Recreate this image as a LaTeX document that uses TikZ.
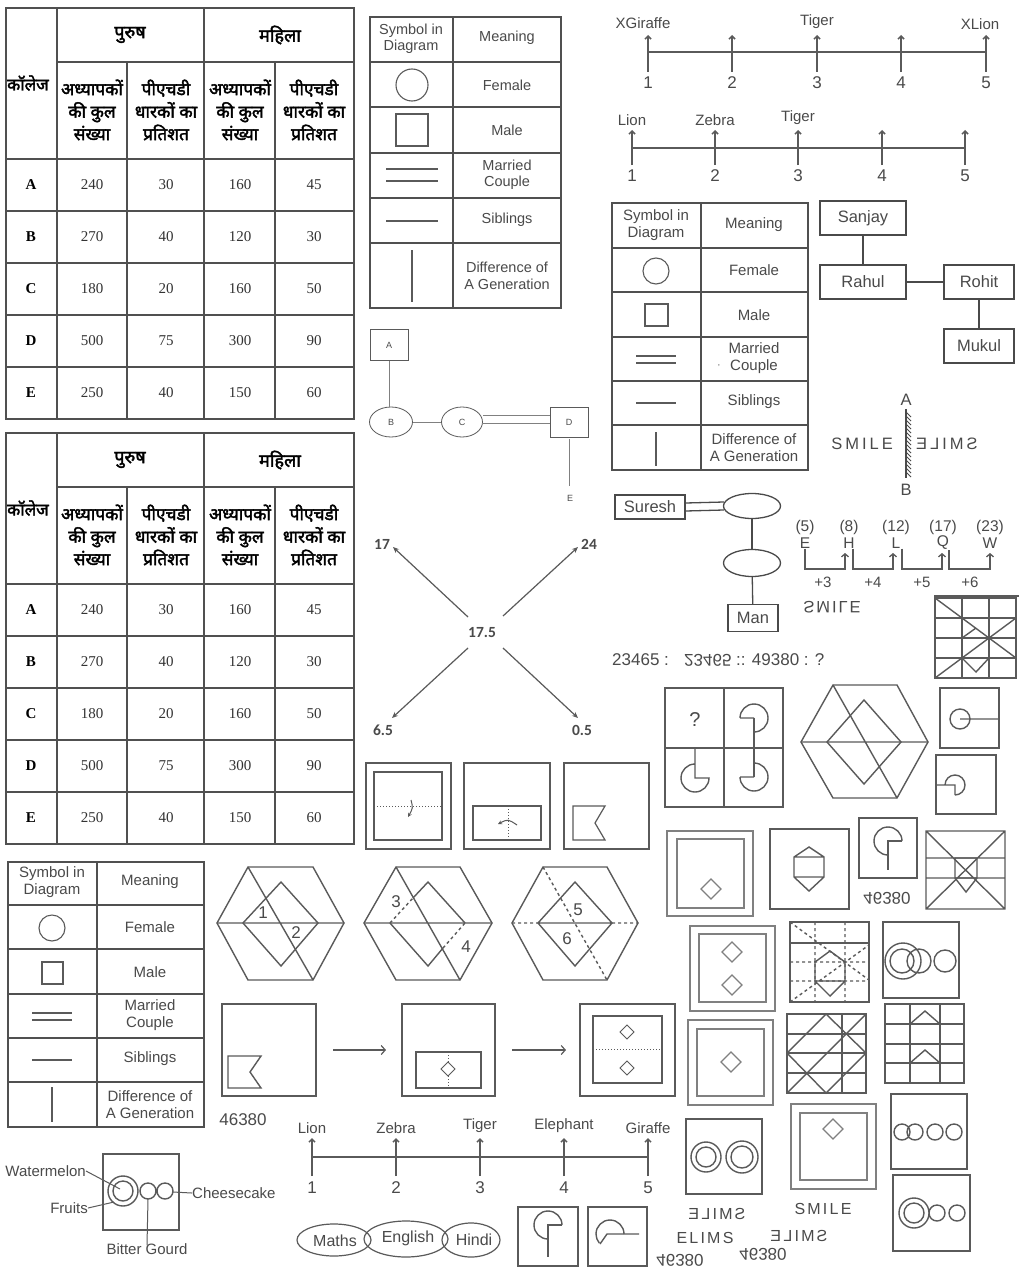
\documentclass[tikz,border=0pt]{standalone}
\usepackage{fontspec}
\setmainfont{Liberation Sans}
\newfontfamily\hindi[Script=Devanagari,FakeBold=2.2]{Noto Sans}
\newfontfamily\tnr{Liberation Serif}
\newfontfamily\calib{Carlito}
\usetikzlibrary{arrows.meta,shapes.geometric}
\definecolor{lc}{HTML}{5A5A5A}
\definecolor{tc}{HTML}{4A4A4A}
\definecolor{tbc}{HTML}{505050}
\tikzset{
 ln/.style={draw=lc,line width=1.4pt},
 lnt/.style={draw=lc,line width=1pt},
 tb/.style={draw=tbc,line width=1.6pt},
 hh/.style={font=\hindi\fontsize{18}{20}\selectfont,inner sep=0pt},
 hs/.style={font=\hindi\fontsize{17.3}{22.5}\selectfont,align=center,inner sep=0pt},
 hl/.style={font=\tnr\bfseries\fontsize{15}{18}\selectfont,inner sep=0pt},
 hn/.style={font=\tnr\fontsize{15}{18}\selectfont,text=black!80,inner sep=0pt},
 st/.style={font=\fontsize{14.5}{16.5}\selectfont,text=tc,align=center,inner sep=0pt},
 sym/.style={draw=lc,line width=1.1pt},
 pbox/.style={draw=tc,line width=1.3pt,font=\fontsize{16.5}{18}\selectfont,text=tc,inner sep=0pt},
 nl/.style={font=\fontsize{15}{17}\selectfont,text=tc,inner sep=0pt},
 nn/.style={font=\fontsize{17}{19}\selectfont,text=tc,inner sep=0pt},
 tick/.style={draw=lc,line width=1.5pt,-{Straight Barb[length=3pt,width=6pt]}},
 bnum/.style={font=\calib\bfseries\fontsize{15.5}{17}\selectfont,text=tc,inner sep=0pt},
 arr/.style={draw=lc,line width=1.2pt,-{Stealth[length=6pt,width=5pt]}},
 sm/.style={font=\addfontfeature{LetterSpace=18}\fontsize{16.5}{18}\selectfont,text=tc,inner sep=0pt},
 tiny/.style={font=\fontsize{9}{10}\selectfont,text=tc,inner sep=0pt},
 fam/.style={draw=gray,line width=0.7pt},
}
\newcommand\hinditable[2]{%
\begin{scope}[shift={(0,#2)}]
\draw[tb] (6,8) rectangle (354,419);
\draw[tb] (57,8) -- (57,419) (204,8) -- (204,419) (57,62) -- (354,62) (127,62) -- (127,419) (275,62) -- (275,419);
\foreach \yy in {159,211,263,315,367} \draw[tb] (6,\yy) -- (354,\yy);
\node[hh] (#1p) at (130,35) {पुरुष};
\node[hh] (#1m) at (280,35) {महिला};
\node[hh,anchor=west,font=\hindi\fontsize{17}{20}\selectfont] (#1k) at (7,83) {कॉलेज};
\node[hs] (#1sa) at (92,110) {अध्यापकों\\की कुल\\संख्या};
\node[hs] (#1sb) at (166,110) {पीएचडी\\धारकों का\\प्रतिशत};
\node[hs] (#1sc) at (240,110) {अध्यापकों\\की कुल\\संख्या};
\node[hs] (#1sd) at (314,110) {पीएचडी\\धारकों का\\प्रतिशत};
\foreach \L/\va/\vb/\vc/\vd [count=\i] in {A/240/30/160/45,B/270/40/120/30,C/180/20/160/50,D/500/75/300/90,E/250/40/150/60}{
 \pgfmathsetmacro\yy{133+52*\i}
 \node[hl] (#1r\i) at (31,\yy) {\L};
 \node[hn] (#1a\i) at (92,\yy) {\va};
 \node[hn] (#1b\i) at (166,\yy) {\vb};
 \node[hn] (#1c\i) at (240,\yy) {\vc};
 \node[hn] (#1d\i) at (314,\yy) {\vd};
}
\end{scope}}
\begin{document}
\begin{tikzpicture}[x=1pt,y=-1pt]
\useasboundingbox[fill=white] (0,0) rectangle (1021,1271);
% ---------- Hindi tables
\hinditable{ta}{0}
\hinditable{tb}{425}
% ---------- symbol table 1
\draw[tb,line width=1.3pt] (370,17) rectangle (561,308);
\draw[tb,line width=1.3pt] (453,17) -- (453,308);
\foreach \yy in {62,107,153,198,243} \draw[tb,line width=1.3pt] (370,\yy) -- (561,\yy);
\node[st] (s1a) at (411,39) {Symbol in\\Diagram};
\node[st] (s1b) at (507,38) {Meaning};
\node[st] (s1c) at (507,85) {Female};
\node[st] (s1d) at (507,130) {Male};
\node[st] (s1e) at (507,175) {Married\\Couple};
\node[st] (s1f) at (507,220) {Siblings};
\node[st] (s1g) at (507,276) {Difference of\\A Generation};
\draw[sym] (412,85) circle[radius=16];
\draw[sym] (396,114) rectangle (428,146);
\draw[sym] (386,169) -- (438,169) (386,181) -- (438,181);
\draw[sym] (386,221) -- (438,221);
\draw[sym] (412,250) -- (412,302);
% ---------- A..E family
\begin{scope}[every node/.style={tiny}]
\node[draw=lc,line width=0.8pt,minimum width=38,minimum height=31] (fa) at (389,345) {A};
\node[draw=lc,line width=0.8pt,ellipse,minimum width=43,minimum height=30] (fb) at (391,422) {B};
\node[draw=lc,line width=0.8pt,ellipse,minimum width=41,minimum height=30] (fc) at (462,422) {C};
\node[draw=lc,line width=0.8pt,minimum width=38,minimum height=30] (fd) at (569,422) {D};
\node (fe) at (570,498) {E};
\end{scope}
\draw[fam] (fa.south) -- (fa.south |- fb.north);
\draw[fam] (fb.east) -- (fc.west);
\draw[fam] ([yshift=7pt]fc.east) -- ([yshift=7pt]fd.west);
\draw[fam] ([yshift=-1pt]fc.east) -- ([yshift=-1pt]fd.west);
\draw[fam] ([yshift=-2pt]fd.south) -- ([yshift=9pt]fd.south |- fe.north);
% ---------- number line 1
\draw[ln,line width=2pt] (648,52) -- (986,52);
\foreach \xx/\n in {648/1,732/2,817/3,901/4,986/5}{
 \draw[tick] (\xx,72) -- (\xx,35);
 \node[nn] (nla\n) at (\xx,83) {\n};}
\node[nl] (nlx1) at (643,23) {XGiraffe};
\node[nl] (nlx2) at (817,22) {Tiger};
\node[nl] (nlx3) at (980,24) {XLion};
% ---------- number line 2
\draw[ln,line width=2pt] (632,148) -- (965,148);
\foreach \xx/\n in {632/1,715/2,798/3,882/4,965/5}{
 \draw[tick] (\xx,165) -- (\xx,130);
 \node[nn] (nlb\n) at (\xx,176) {\n};}
\node[nl] (nly1) at (632,120) {Lion};
\node[nl] (nly2) at (715,120) {Zebra};
\node[nl] (nly3) at (798,118) {Tiger};
% ---------- symbol table 2
\draw[tb,line width=1.3pt] (612,203) rectangle (808,470);
\draw[tb,line width=1.3pt] (701,203) -- (701,470);
\foreach \yy in {248,292,337,381,425} \draw[tb,line width=1.3pt] (612,\yy) -- (808,\yy);
\begin{scope}[every node/.style={st,font=\fontsize{15}{17}\selectfont}]
\node (s2a) at (656,225) {Symbol in\\Diagram};
\node (s2b) at (754,225) {Meaning};
\node (s2c) at (754,270) {Female};
\node (s2d) at (754,315) {Male};
\node (s2e) at (754,358) {Married\\Couple};
\node (s2f) at (754,402) {Siblings};
\node (s2g) at (754,448) {Difference of\\A Generation};
\node[font=\fontsize{8}{8}\selectfont] (s2h) at (719,366) {,};
\end{scope}
\draw[sym] (656,271) circle[radius=13];
\draw[sym] (645,304) rectangle (668,326);
\draw[sym] (636,356) -- (676,356) (636,363) -- (676,363);
\draw[sym] (636,403) -- (676,403);
\draw[sym] (656,432) -- (656,466);
% ---------- Sanjay tree
\node[pbox,minimum width=86,minimum height=34] (sanjay) at (863,218) {Sanjay};
\node[pbox,minimum width=86,minimum height=34] (rahul) at (863,282) {Rahul};
\node[pbox,minimum width=70,minimum height=34] (rohit) at (979,282) {Rohit};
\node[pbox,minimum width=70,minimum height=34] (mukul) at (979,346) {Mukul};
\draw[draw=tc,line width=1.3pt] (sanjay) -- (rahul);
\draw[draw=tc,line width=1.3pt] (rahul) -- (rohit);
\draw[draw=tc,line width=1.3pt] (rohit) -- (mukul);
% ---------- mirror
\node[font=\fontsize{16.5}{18}\selectfont,text=tc,inner sep=0pt] (mA) at (906,400) {A};
\node[font=\fontsize{16.5}{18}\selectfont,text=tc,inner sep=0pt] (mB) at (906,490) {B};
\draw[draw=tc,line width=1.4pt] ([yshift=-3pt]mA.south) -- ([yshift=6pt]mB.north);
\foreach \yy in {412,416,...,472} \draw[draw=tc,line width=0.8pt] (906,\yy) -- (911,\yy+5);
\node[sm,anchor=east] (sm1) at (893,444) {SMILE};
\node[sm,anchor=east,xscale=-1,transform shape] (sm2) at (916,444) {SMILE};
% ---------- Suresh
\node[pbox,minimum width=70,minimum height=24] (suresh) at (650,507) {Suresh};
\node[draw=tc,line width=1.3pt,ellipse,minimum width=57,minimum height=25] (e1) at (752,506) {};
\node[draw=tc,line width=1.3pt,ellipse,minimum width=57,minimum height=27] (e2) at (752,563) {};
\node[pbox,minimum width=50,minimum height=27] (man) at (753,618) {Man};
\draw[draw=tc,line width=1.3pt] ([yshift=4pt]suresh.east) -- ([yshift=4pt,xshift=1pt]e1.west);
\draw[draw=tc,line width=1.3pt] ([yshift=-4pt]suresh.east) -- ([yshift=-4pt,xshift=1pt]e1.west);
\draw[draw=tc,line width=1.3pt] (e1) -- (e2);
\draw[draw=tc,line width=1.3pt] (e2) -- (man);
% ---------- letters EHLQW
\foreach \xx/\nm/\L/\v in {805/le/E/5,849/lh/H/8,896/ll/L/12,943/lq/Q/17,990/lw/W/23}{
 \node[nl,font=\fontsize{15.5}{17}\selectfont] (\nm n) at (\xx,527) {(\v)};
 \node[nl,font=\fontsize{15.5}{17}\selectfont] (\nm) at (\xx,543) {\L};}
\draw[lnt,line width=1.3pt,-{Straight Barb[length=3pt,width=7pt]}] (le.south) |- (845,569) -- (845,553);
\draw[lnt,line width=1.3pt,-{Straight Barb[length=3pt,width=7pt]}] ([xshift=4pt]lh.south) |- (893,569) -- (893,553);
\draw[lnt,line width=1.3pt,-{Straight Barb[length=3pt,width=7pt]}] ([xshift=6pt]ll.south) |- (942,569) -- (942,553);
\draw[lnt,line width=1.3pt,-{Straight Barb[length=3pt,width=7pt]}] ([xshift=6pt]lq.south) |- (990,569) -- (990,553);
\node[nl] (p3) at (823,582) {+3};
\node[nl] (p4) at (873,582) {+4};
\node[nl] (p5) at (922,582) {+5};
\node[nl] (p6) at (970,582) {+6};
\node[sm,yscale=-1,transform shape,font=\addfontfeature{LetterSpace=12}\fontsize{16.5}{18}\selectfont] (sm3) at (832,607) {SMILE};
% ---------- 23465 analogy
\node[nl,font=\fontsize{17}{19}\selectfont,anchor=west] (an1) at (612,660) {23465 :};
\node[nl,font=\fontsize{17}{19}\selectfont,anchor=west,yscale=-1,transform shape] (an2) at (684,660) {23465};
\node[nl,font=\fontsize{17}{19}\selectfont,anchor=west] (an3) at (736,660) {:: 49380 : ?};
% ---------- grid square top right
\draw[lnt,line width=1.2pt] (934,596) -- (1019,596);
\draw[ln] (935,598) rectangle (1016,678);
\draw[ln] (962,598) -- (962,678) (989,598) -- (989,678) (935,618) -- (1016,618) (935,638) -- (1016,638) (935,658) -- (1016,658);
\draw[ln] (935,598) -- (1016,658);
\draw[ln] (1016,618) -- (935,678);
\draw[ln] (962,638) -- (976,628);
\draw[ln] (962,658) -- (976,672) -- (989,658);
% ---------- 17.5 arrows
\node[bnum] (c175) at (482,633) {17.5};
\node[bnum] (n17) at (382,544) {17};
\node[bnum] (n24) at (589,544) {24};
\node[bnum] (n65) at (383,730) {6.5};
\node[bnum] (n05) at (582,730) {0.5};
\coordinate (q1) at (468,617); \coordinate (q2) at (503,616);
\coordinate (q3) at (468,648); \coordinate (q4) at (503,648);
\coordinate (t1) at (393,547); \coordinate (t2) at (578,547);
\coordinate (t3) at (392,718); \coordinate (t4) at (578,718);
\draw[arr] (q1) -- (t1); \draw[arr] (q2) -- (t2);
\draw[arr] (q3) -- (t3); \draw[arr] (q4) -- (t4);
% ---------- folding papers top
\draw[lnt,line width=1.2pt] (366,763) rectangle (451,849) (374,772) rectangle (442,840);
\draw[lnt,dotted] (374,806) -- (442,806);
\draw[lnt,-{Stealth[length=4pt,width=4pt]}] (411,800) .. controls (413,808) .. (408,817);
\draw[lnt,line width=1.2pt] (464,763) rectangle (550,849) (473,806) rectangle (541,840);
\draw[lnt,dotted] (508,806) -- (508,840);
\draw[lnt,-{Stealth[length=4pt,width=4pt]}] (517,825) .. controls (508,819) .. (498,824);
\draw[lnt,line width=1.2pt] (564,763) rectangle (649,849);
\draw[lnt,line width=1.2pt] (573,806) -- (605,806) -- (595,823) -- (605,840) -- (573,840) -- cycle;
% ---------- ? square
\draw[ln] (665,688) rectangle (783,807) (724,688) -- (724,807) (665,748) -- (783,748);
\node[nl,font=\fontsize{20}{22}\selectfont] (qm) at (695,720) {?};
\draw[ln] (740,718) -- (754,718) (740,718) arc[start angle=180,end angle=450,radius=14];
\draw[ln] (754,718) -- (754,777);
\draw[ln] (695,748) -- (695,778) -- (709,778) arc[start angle=0,end angle=270,radius=14];
\draw[ln] (740,777) -- (754,777) (754,763) arc[start angle=-90,end angle=180,radius=14];
% ---------- hexagon right
\draw[ln] (801,742) -- (833,685) -- (897,685) -- (928,742) -- (897,798) -- (833,798) -- cycle;
\draw[ln] (801,742) -- (928,742) (833,685) -- (897,798);
\draw[ln] (864,700) -- (901,742) -- (864,784) -- (827,742) -- cycle;
% ---------- small squares
\draw[ln] (940,688) rectangle (999,748);
\draw[ln] (960,719) circle[radius=10] (960,719) -- (999,719);
\draw[ln] (936,755) rectangle (996,814);
\draw[ln] (936,785) -- (955,785) -- (955,795) (945,785) arc[start angle=180,end angle=450,radius=10];
% ---------- row of figures y~830-910
\draw[lnt,draw=gray,line width=1.3pt] (667,831) rectangle (753,916) (677,839) rectangle (744,908);
\draw[lnt,draw=gray,line width=1.2pt] (711,879) -- (721,889) -- (711,899) -- (701,889) -- cycle;
\draw[ln] (770,829) rectangle (849,909);
\draw[ln] (794,857) -- (809,847) -- (824,857) -- (824,877) -- (809,891) -- (794,877) -- cycle (794,857) -- (824,857) (794,877) -- (824,877);
\draw[ln] (859,818) rectangle (917,878);
\draw[ln] (902,841) arc[start angle=0,end angle=-270,radius=14];
\draw[ln] (902,841) -- (888,841) -- (888,870);
\node[nl,font=\fontsize{17}{19}\selectfont,yscale=-1,transform shape] (f46a) at (887,898) {46380};
\draw[ln] (926,831) rectangle (1005,909) (926,831) -- (1005,909) (1005,831) -- (926,909) (926,858) -- (1005,858) (926,878) -- (1005,878);
\draw[ln] (955,858) rectangle (977,878) (955,878) -- (966,892) -- (977,878);
% ---------- zoom-8 figures
\draw[lnt,draw=gray,line width=1.3pt] (690,926) rectangle (775,1011) (699,934) rectangle (766,1002);
\draw[lnt,draw=gray,line width=1.2pt] (732,942) -- (742,952) -- (732,962) -- (722,952) -- cycle (732,975) -- (742,985) -- (732,995) -- (722,985) -- cycle;
\draw[ln] (790,922) rectangle (869,1002) (790,943) -- (869,943);
\draw[ln,dashed] (790,962) -- (869,962) (790,981) -- (869,981) (815,922) -- (815,1002) (845,922) -- (845,1002) (790,922) -- (869,980) (790,1002) -- (869,945);
\draw[ln] (815,962) -- (830,951) -- (845,962) -- (845,981) -- (830,996) -- (815,981) -- cycle (815,981) -- (845,981);
\draw[ln] (883,922) rectangle (959,998);
\draw[ln] (903,961) circle[radius=18] (902,961) circle[radius=12] (919,961) circle[radius=12] (945,961) circle[radius=11];
\draw[ln] (787,1014) rectangle (866,1093) (787,1034) -- (866,1034) (787,1053) -- (866,1053) (787,1073) -- (866,1073) (842,1014) -- (842,1093);
\draw[ln] (826,1014) -- (866,1053) -- (826,1093) -- (787,1053) -- cycle (787,1093) -- (866,1014);
\draw[ln] (885,1004) rectangle (964,1083) (910,1004) -- (910,1083) (940,1004) -- (940,1083) (885,1024) -- (964,1024) (885,1044) -- (964,1044) (885,1063) -- (964,1063);
\draw[ln] (910,1024) -- (925,1011) -- (940,1024) (910,1063) -- (925,1050) -- (940,1063);
\draw[lnt,draw=gray,line width=1.3pt] (688,1020) rectangle (773,1105) (697,1029) rectangle (764,1096);
\draw[lnt,draw=gray,line width=1.2pt] (731,1052) -- (741,1062) -- (731,1072) -- (721,1062) -- cycle;
\draw[lnt,draw=gray,line width=1.3pt] (791,1104) rectangle (876,1189) (800,1113) rectangle (867,1180);
\draw[lnt,draw=gray,line width=1.2pt] (833,1119) -- (843,1129) -- (833,1139) -- (823,1129) -- cycle;
\draw[ln] (686,1119) rectangle (762,1194);
\draw[ln] (706,1157) circle[radius=15] (706,1157) circle[radius=10] (742,1157) circle[radius=16] (742,1157) circle[radius=11];
\draw[ln] (891,1094) rectangle (967,1169);
\draw[ln] (902,1132) circle[radius=8] (915,1132) circle[radius=8] (935,1132) circle[radius=8] (954,1132) circle[radius=8];
\draw[ln] (893,1175) rectangle (970,1251);
\draw[ln] (914,1213) circle[radius=15] (914,1213) circle[radius=10] (937,1213) circle[radius=8] (957,1213) circle[radius=8];
\node[sm,xscale=-1,transform shape,font=\addfontfeature{LetterSpace=14}\fontsize{16}{18}\selectfont] (smb1) at (717,1214) {SMILE};
\node[sm,font=\addfontfeature{LetterSpace=14}\fontsize{16}{18}\selectfont] (smb2) at (823,1209) {SMILE};
\node[sm,font=\addfontfeature{LetterSpace=14}\fontsize{16}{18}\selectfont] (smb3) at (705,1238) {ELIMS};
\node[sm,xscale=-1,transform shape,font=\addfontfeature{LetterSpace=14}\fontsize{16}{18}\selectfont] (smb4) at (799,1236) {SMILE};
\node[nl,font=\fontsize{17}{19}\selectfont,yscale=-1,transform shape] (f46b) at (763,1254) {46380};
\node[nl,font=\fontsize{17}{19}\selectfont,yscale=-1,transform shape] (f46c) at (680,1260) {46380};
% ---------- symbol table 3
\draw[tb,line width=1.3pt] (8,862) rectangle (204,1127);
\draw[tb,line width=1.3pt] (97,862) -- (97,1127);
\foreach \yy in {905,949,994,1038,1082} \draw[tb,line width=1.3pt] (8,\yy) -- (204,\yy);
\begin{scope}[every node/.style={st,font=\fontsize{15}{17}\selectfont}]
\node (s3a) at (52,882) {Symbol in\\Diagram};
\node (s3b) at (150,882) {Meaning};
\node (s3c) at (150,927) {Female};
\node (s3d) at (150,972) {Male};
\node (s3e) at (150,1015) {Married\\Couple};
\node (s3f) at (150,1059) {Siblings};
\node (s3g) at (150,1105) {Difference of\\A Generation};
\end{scope}
\draw[sym] (52,928) circle[radius=13];
\draw[sym] (42,962) rectangle (63,984);
\draw[sym] (32,1013) -- (72,1013) (32,1020) -- (72,1020);
\draw[sym] (32,1060) -- (72,1060);
\draw[sym] (52,1087) -- (52,1122);
% ---------- watermelon
\draw[ln] (103,1154) rectangle (179,1230);
\draw[ln] (123,1191) circle[radius=15] (123,1191) circle[radius=10] (148,1191) circle[radius=8] (165,1191) circle[radius=8];
\node[nl,anchor=east] (wm) at (86,1171) {Watermelon};
\node[nl,anchor=east] (fr) at (88,1208) {Fruits};
\node[nl,anchor=west] (ch) at (192,1193) {Cheesecake};
\node[nl] (bg) at (147,1249) {Bitter Gourd};
\coordinate (wmp) at (120,1189); \coordinate (frp) at (114,1202);
\coordinate (chp) at (173,1192); \coordinate (bgp) at (148,1199);
\draw[lnt] (wm.east) -- (wmp);
\draw[lnt] (fr.east) -- (frp);
\draw[lnt] (ch.west) -- (chp);
\draw[lnt] ([yshift=-2pt]bg.north) -- (bgp);
% ---------- hexagons
\draw[ln] (217,923) -- (248,867) -- (313,867) -- (344,923) -- (313,980) -- (248,980) -- cycle;
\draw[ln] (217,923) -- (344,923) (248,867) -- (313,980);
\draw[ln] (281,882) -- (318,923) -- (281,966) -- (243,923) -- cycle;
\node[nl,font=\fontsize{17}{19}\selectfont] (h1) at (263,913) {1};
\node[nl,font=\fontsize{17}{19}\selectfont] (h2) at (296,933) {2};
\draw[ln] (364,923) -- (396,867) -- (460,867) -- (492,923) -- (460,980) -- (396,980) -- cycle;
\draw[ln] (364,923) -- (492,923) (396,867) -- (460,980);
\draw[ln] (413,898) -- (428,882) -- (465,923) (390,923) -- (428,966) -- (443,948);
\draw[ln,dashed] (390,923) -- (413,898) (443,948) -- (465,923);
\node[nl,font=\fontsize{17}{19}\selectfont] (h3) at (396,902) {3};
\node[nl,font=\fontsize{17}{19}\selectfont] (h4) at (466,947) {4};
\draw[ln] (512,923) -- (543,867) -- (607,867) -- (638,923) -- (607,980) -- (543,980) -- cycle;
\draw[ln,dashed] (512,923) -- (538,923) (612,923) -- (638,923) (543,867) -- (607,980);
\draw[ln] (538,923) -- (612,923) (575,882) -- (612,923) -- (575,966) -- (538,923) -- cycle;
\node[nl,font=\fontsize{17}{19}\selectfont] (h5) at (578,910) {5};
\node[nl,font=\fontsize{17}{19}\selectfont] (h6) at (567,939) {6};
% ---------- folding boxes bottom
\draw[ln] (222,1004) rectangle (316,1096);
\draw[ln] (228,1056) -- (261,1056) -- (250,1072) -- (261,1088) -- (228,1088) -- cycle;
\draw[ln] (402,1004) rectangle (495,1096) (416,1052) rectangle (481,1088);
\draw[lnt,dotted] (448,1052) -- (448,1088);
\draw[lnt,fill=white] (448,1062) -- (455,1069) -- (448,1076) -- (441,1069) -- cycle;
\draw[ln] (580,1004) rectangle (675,1096) (593,1016) rectangle (662,1083);
\draw[lnt,dotted] (593,1049) -- (662,1049);
\draw[lnt] (627,1025) -- (634,1032) -- (627,1039) -- (620,1032) -- cycle (627,1061) -- (634,1068) -- (627,1075) -- (620,1068) -- cycle;
\coordinate (fa1) at (333,1050); \coordinate (fa2) at (386,1050);
\coordinate (fa3) at (512,1050); \coordinate (fa4) at (566,1050);
\draw[lnt,line width=1.2pt,-{Straight Barb[length=4pt,width=9pt]}] (fa1) -- (fa2);
\draw[lnt,line width=1.2pt,-{Straight Barb[length=4pt,width=9pt]}] (fa3) -- (fa4);
\node[nl,font=\fontsize{17}{19}\selectfont] (n46) at (243,1120) {46380};
% ---------- number line 3
\draw[ln,line width=2pt] (312,1157) -- (648,1157);
\foreach \xx/\n in {312/1,396/2,480/3,564/4,648/5}{
 \draw[tick] (\xx,1176) -- (\xx,1138);
 \node[nn] (nlc\n) at (\xx,1188) {\n};}
\node[nl] (nlz1) at (312,1128) {Lion};
\node[nl] (nlz2) at (396,1128) {Zebra};
\node[nl] (nlz3) at (480,1126) {Tiger};
\node[nl] (nlz4) at (564,1126) {Elephant};
\node[nl] (nlz5) at (648,1128) {Giraffe};
% ---------- subjects
\draw[ln,line width=1.2pt] (334,1240) ellipse[x radius=37,y radius=16];
\draw[ln,line width=1.2pt] (406,1239) ellipse[x radius=42,y radius=18];
\draw[ln,line width=1.2pt] (471,1240) ellipse[x radius=29,y radius=17];
\node[nl,font=\fontsize{16}{18}\selectfont] (sma) at (335,1241) {Maths};
\node[nl,font=\fontsize{16}{18}\selectfont] (sme) at (408,1238) {English};
\node[nl,font=\fontsize{16}{18}\selectfont] (smh) at (474,1240) {Hindi};
% ---------- P boxes
\draw[ln] (518,1207) rectangle (578,1266);
\draw[ln] (562,1225) arc[start angle=0,end angle=-270,radius=14];
\draw[ln] (562,1225) -- (548,1225) -- (548,1257);
\draw[ln] (588,1207) rectangle (647,1266);
\draw[ln] (624,1234) arc[start angle=0,end angle=-220,radius=14];
\draw[ln] (600,1244) -- (607,1234) -- (639,1234);
\end{tikzpicture}
\end{document}
